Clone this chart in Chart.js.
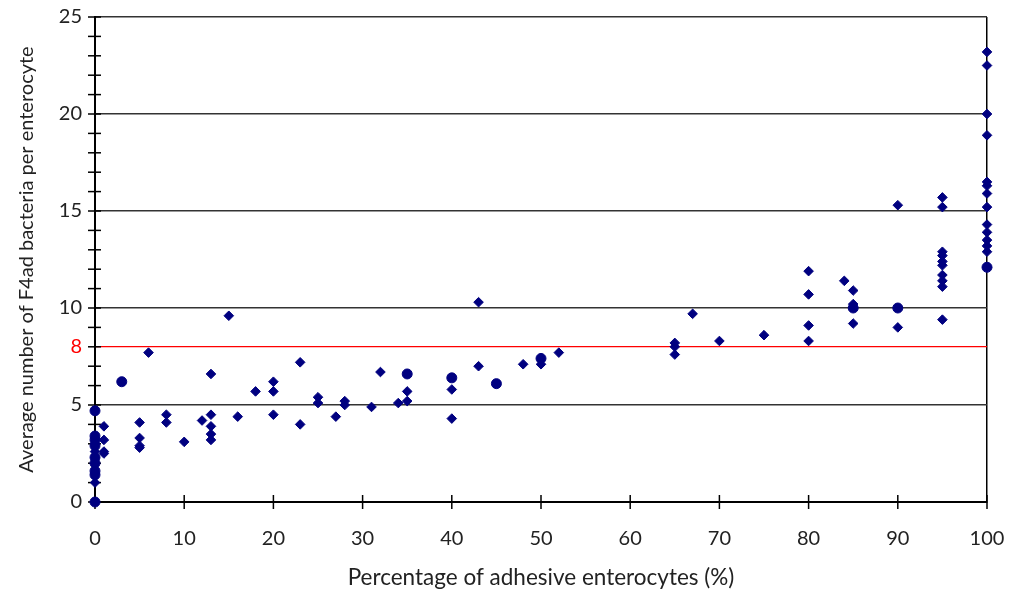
<!DOCTYPE html>
<html>
<head>
<meta charset="utf-8">
<script src="https://cdn.jsdelivr.net/npm/chart.js@4.4.1/dist/chart.umd.min.js"></script>
<style>
  html, body { margin: 0; padding: 0; background: #fff; }
  #wrap { width: 1011px; height: 597px; position: relative; }
</style>
</head>
<body>
<div id="wrap"><canvas id="chart"></canvas></div>
<script>
// -------- Data
const diamondX = [
  0, 0, 0,
  1, 1, 1, 1,
  5, 5, 5, 5,
  6, 8, 8, 10, 12,
  13, 13, 13, 13, 13,
  15, 16, 18, 20, 20, 20,
  23, 23, 25, 25, 27, 28, 28, 31, 32, 34, 35, 35,
  40, 40, 43, 43, 48, 50, 52,
  65, 65, 65, 67, 70, 75,
  80, 80, 80, 80, 84, 85, 85, 85,
  90, 90,
  95, 95, 95, 95, 95, 95, 95, 95, 95, 95,
  100, 100, 100, 100, 100, 100, 100, 100, 100, 100, 100, 100, 100, 100,
];
const diamondY = [
  1.0, 3.0, 2.6,
  3.9, 3.2, 2.5, 2.6,
  4.1, 3.3, 2.9, 2.8,
  7.7, 4.5, 4.1, 3.1, 4.2,
  6.6, 4.5, 3.9, 3.5, 3.2,
  9.6, 4.4, 5.7, 6.2, 5.7, 4.5,
  7.2, 4.0, 5.4, 5.1, 4.4, 5.2, 5.0, 4.9, 6.7, 5.1, 5.7, 5.2,
  5.8, 4.3, 10.3, 7.0, 7.1, 7.1, 7.7,
  8.2, 8.0, 7.6, 9.7, 8.3, 8.6,
  11.9, 10.7, 9.1, 8.3, 11.4, 10.9, 10.2, 9.2,
  15.3, 9.0,
  15.7, 15.2, 12.9, 12.7, 12.4, 12.2, 11.7, 11.4, 11.1, 9.4,
  23.2, 22.5, 20.0, 18.9, 16.5, 16.3, 15.9, 15.2, 14.3, 13.9, 13.5, 13.2, 12.9, 12.1,
];
const circleX = [0, 0, 0, 0, 0, 0, 0, 0, 0, 3, 35, 40, 45, 50, 85, 90, 100];
const circleY = [4.7, 3.4, 3.2, 2.9, 2.3, 2.0, 1.6, 1.4, 0, 6.2, 6.6, 6.4, 6.1, 7.4, 10.0, 10.0, 12.1];

const xTitle = "Percentage of adhesive enterocytes (%)";
const yTitle = "Average number of F4ad bacteria per enterocyte";
const refValue = 8;

const NAVY = "#000080";
const INK = "#222";
const FONT = "Lato";

const toPoints = (xs, ys) => xs.map((x, i) => ({ x: x, y: ys[i] }));

// -------- Tick marks that cross the axes
const crossTicks = {
  id: "crossTicks",
  beforeDatasetsDraw(chart) {
    const { ctx, chartArea, scales } = chart;
    ctx.save();
    ctx.strokeStyle = "#000";
    ctx.lineWidth = 1.5;
    scales.y.ticks.forEach((t) => {
      const py = scales.y.getPixelForValue(t.value);
      ctx.beginPath();
      ctx.moveTo(chartArea.left - 7, py);
      ctx.lineTo(chartArea.left + 6, py);
      ctx.stroke();
    });
    scales.x.ticks.forEach((t) => {
      const px = scales.x.getPixelForValue(t.value);
      ctx.beginPath();
      ctx.moveTo(px, chartArea.bottom - 7);
      ctx.lineTo(px, chartArea.bottom + 7);
      ctx.stroke();
    });
    ctx.restore();
  },
};

new Chart(document.getElementById("chart"), {
  type: "scatter",
  data: {
    datasets: [
      {
        label: "diamonds",
        data: toPoints(diamondX, diamondY),
        pointStyle: "rectRot",
        pointRadius: 4.8,
        pointBorderWidth: 1,
        backgroundColor: NAVY,
        borderColor: NAVY,
        clip: false,
      },
      {
        label: "circles",
        data: toPoints(circleX, circleY),
        pointStyle: "circle",
        pointRadius: 5,
        pointBorderWidth: 1,
        backgroundColor: NAVY,
        borderColor: NAVY,
        clip: false,
      },
    ],
  },
  options: {
    responsive: true,
    maintainAspectRatio: false,
    animation: false,
    layout: { padding: { top: 17, right: 24, left: 0, bottom: 0 } },
    plugins: { legend: { display: false }, tooltip: { enabled: false } },
    scales: {
      x: {
        type: "linear",
        min: 0,
        max: 100,
        ticks: {
          stepSize: 10,
          padding: 25,
          color: INK,
          font: { family: FONT, size: 20 },
        },
        grid: {
          drawTicks: false,
          color: (c) => (c.tick && c.tick.value === 100 ? "#000" : "transparent"),
          lineWidth: 1.5,
        },
        border: { color: "#000", width: 2 },
        title: {
          display: true,
          text: xTitle,
          color: INK,
          font: { family: FONT, size: 22.5 },
          padding: { top: 4, bottom: 6 },
        },
        afterFit: (s) => {
          s.height = 95;
          s.paddingLeft = 0;
          s.paddingRight = 0;
        },
      },
      y: {
        type: "linear",
        min: 0,
        max: 25,
        ticks: {
          stepSize: 1,
          autoSkip: false,
          padding: 13,
          color: (c) => (c.tick && c.tick.value === refValue ? "#ff0000" : INK),
          font: { family: FONT, size: 20 },
          callback: (v) => (v % 5 === 0 || v === refValue ? String(v) : ""),
        },
        grid: {
          drawTicks: false,
          color: (c) => {
            const v = c.tick ? c.tick.value : -1;
            if (v === refValue) return "#ff0000";
            if (v > 0 && v % 5 === 0) return "#333";
            return "transparent";
          },
          lineWidth: (c) => (c.tick && c.tick.value === refValue ? 1.3 : 1.5),
        },
        border: { color: "#000", width: 2 },
        title: {
          display: true,
          text: yTitle,
          color: INK,
          font: { family: FONT, size: 20 },
          padding: { top: 15, bottom: 0 },
        },
        afterFit: (s) => {
          s.width = 95;
          s.paddingTop = 0;
          s.paddingBottom = 0;
        },
      },
    },
  },
  plugins: [crossTicks],
});
</script>
</body>
</html>
